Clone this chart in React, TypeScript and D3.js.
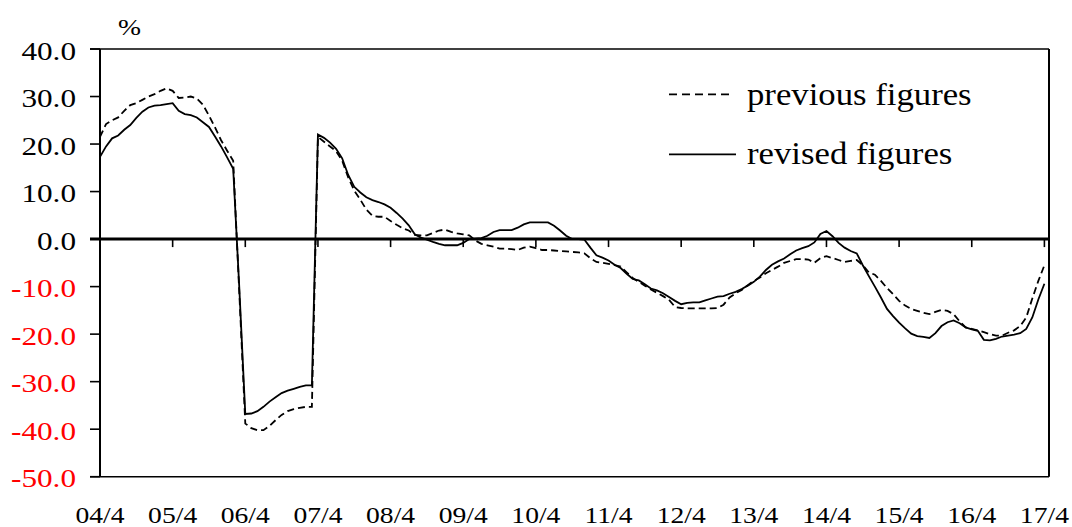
import React, { useEffect, useRef } from 'react'
import * as d3 from 'd3'

// fiscal year start labels (April of each year)
const yearLabels = ['04/4', '05/4', '06/4', '07/4', '08/4', '09/4', '10/4', '11/4', '12/4', '13/4', '14/4', '15/4', '16/4', '17/4']

const yTicks = [40, 30, 20, 10, 0, -10, -20, -30, -40, -50]

// monthly values, 2004/4 .. 2017/4
const previousFigures = [
  21.5, 24.2, 25.0, 25.6, 27.0, 28.2, 28.6, 29.3, 30.0, 30.5,
  31.2, 31.7, 31.2, 29.7, 29.8, 30.0, 29.6, 28.3, 26.0, 23.5,
  20.8, 18.6, 16.5, -11.0, -38.8, -39.8, -40.2, -40.2, -39.3, -38.1,
  -37.0, -36.2, -35.8, -35.5, -35.3, -35.3, 21.5, 20.5, 19.5, 18.5,
  16.5, 13.0, 10.2, 8.3, 6.2, 4.9, 4.7, 4.7, 3.8, 3.0,
  2.3, 1.8, 0.9, 0.8, 0.8, 1.3, 1.8, 2.0, 1.5, 1.2,
  1.0, 0.8, -0.3, -1.0, -1.3, -1.6, -2.0, -2.0, -2.1, -2.3,
  -1.8, -1.6, -1.9, -2.3, -2.3, -2.4, -2.5, -2.6, -2.7, -2.8,
  -3.0, -4.0, -4.8, -5.0, -5.2, -5.5, -5.8, -7.0, -8.2, -9.0,
  -9.8, -10.6, -11.3, -12.0, -12.8, -14.3, -14.5, -14.6, -14.6, -14.6,
  -14.6, -14.6, -14.5, -13.8, -12.3, -11.4, -10.7, -9.7, -8.8, -8.1,
  -7.2, -6.5, -5.8, -5.0, -4.6, -4.2, -4.2, -4.3, -5.0, -4.0,
  -3.6, -4.0, -4.4, -4.8, -4.6, -4.4, -5.5, -7.0, -7.5, -8.8,
  -10.3, -11.6, -13.0, -14.0, -14.7, -15.1, -15.5, -15.8, -15.3, -14.9,
  -15.1, -15.8, -17.3, -18.6, -18.9, -19.2, -19.6, -20.0, -20.3, -20.3,
  -19.7, -19.2, -18.3, -16.5, -12.5, -8.8, -5.5,
]

const revisedFigures = [
  17.3, 19.5, 21.2, 21.8, 23.0, 24.0, 25.5, 26.8, 27.7, 28.1,
  28.2, 28.4, 28.6, 27.0, 26.3, 26.1, 25.6, 24.6, 23.6, 21.6,
  19.5, 17.2, 14.8, -10.0, -36.8, -36.7, -36.2, -35.3, -34.2, -33.3,
  -32.4, -31.9, -31.5, -31.1, -30.8, -30.8, 22.0, 21.3, 20.3, 19.0,
  17.0, 13.5, 11.0, 9.8, 8.8, 8.2, 7.8, 7.3, 6.6, 5.5,
  4.3, 2.9, 1.0, 0.3, -0.1, -0.6, -1.0, -1.3, -1.3, -1.3,
  -0.8, 0.0, 0.1, 0.2, 0.7, 1.5, 1.9, 1.9, 1.9, 2.4,
  3.1, 3.5, 3.5, 3.5, 3.5, 2.8, 1.8, 0.7, 0.0, 0.0,
  -0.1, -1.8, -3.4, -3.9, -4.5, -5.4, -6.1, -7.3, -8.4, -8.7,
  -9.5, -10.4, -10.8, -11.4, -12.2, -13.0, -13.7, -13.4, -13.3, -13.3,
  -12.9, -12.5, -12.1, -12.0, -11.5, -11.1, -10.5, -9.8, -9.0, -7.9,
  -6.5, -5.4, -4.7, -4.1, -3.2, -2.4, -1.9, -1.5, -0.7, 1.1,
  1.7, 0.6, -0.8, -1.8, -2.5, -3.0, -5.5, -7.8, -10.0, -12.3,
  -14.7, -16.2, -17.6, -18.8, -19.9, -20.4, -20.6, -20.8, -19.8, -18.3,
  -17.5, -17.1, -17.7, -18.6, -19.0, -19.3, -21.2, -21.3, -21.0, -20.5,
  -20.3, -20.1, -19.8, -18.9, -16.5, -12.7, -9.4,
]

const FONT = "'Liberation Serif', 'DejaVu Serif', serif"

const App = () => {
  const ref = useRef<SVGSVGElement>(null)

  useEffect(() => {
    const svg = d3.select(ref.current)
    svg.selectAll('*').remove()

    const left = 100
    const right = 1049
    const top = 49
    const bottom = 476.7

    const x = d3.scaleLinear().domain([0, 156]).range([left, 1044.4])
    const y = d3.scaleLinear().domain([-50, 40]).range([bottom, top])

    const txt = (tr: string, size: number, s: string, anchor = 'start', fill = '#000') =>
      svg.append('text')
        .attr('transform', tr)
        .attr('text-anchor', anchor)
        .style('font-family', FONT)
        .style('font-size', `${size}px`)
        .attr('fill', fill)
        .text(s)

    // frame
    svg.append('line').attr('x1', left - 10).attr('x2', right).attr('y1', top).attr('y2', top)
      .attr('stroke', '#000').attr('stroke-width', 1.6)
    svg.append('line').attr('x1', left - 10).attr('x2', right).attr('y1', bottom).attr('y2', bottom)
      .attr('stroke', '#000').attr('stroke-width', 1.4)
    svg.append('line').attr('x1', left).attr('x2', left).attr('y1', top).attr('y2', bottom)
      .attr('stroke', '#000').attr('stroke-width', 2)
    svg.append('line').attr('x1', right).attr('x2', right).attr('y1', top).attr('y2', bottom)
      .attr('stroke', '#000').attr('stroke-width', 2)

    // y ticks + labels
    yTicks.forEach((t) => {
      svg.append('line').attr('x1', left - 10).attr('x2', left).attr('y1', y(t)).attr('y2', y(t))
        .attr('stroke', '#000').attr('stroke-width', 1.6)
      txt(`translate(76,${y(t) + 10.5}) scale(1.2,1)`, 26, t.toFixed(1), 'end', t < 0 ? '#ff0000' : '#000')
    })

    // zero line
    svg.append('line').attr('x1', left - 10).attr('x2', right).attr('y1', y(0)).attr('y2', y(0))
      .attr('stroke', '#000').attr('stroke-width', 3)

    // x ticks + labels
    yearLabels.forEach((lab, k) => {
      const xi = x(k * 12)
      if (k > 0) {
        svg.append('line').attr('x1', xi).attr('x2', xi).attr('y1', y(0)).attr('y2', y(0) + 8)
          .attr('stroke', '#000').attr('stroke-width', 1.6)
      }
      txt(`translate(${xi},522.5) scale(1.15,1)`, 24, lab, 'middle')
    })

    txt('translate(118,35) scale(1.15,1)', 24, '%')

    const line = d3.line<number>().x((_, i) => x(i)).y((d) => y(d))

    svg.append('path').datum(previousFigures)
      .attr('fill', 'none').attr('stroke', '#000').attr('stroke-width', 1.8)
      .attr('stroke-dasharray', '7,4').attr('d', line)
    svg.append('path').datum(revisedFigures)
      .attr('fill', 'none').attr('stroke', '#000').attr('stroke-width', 1.8)
      .attr('d', line)

    // legend
    svg.append('line').attr('x1', 669).attr('x2', 734).attr('y1', 94.3).attr('y2', 94.3)
      .attr('stroke', '#000').attr('stroke-width', 1.8).attr('stroke-dasharray', '8,5')
    svg.append('line').attr('x1', 669).attr('x2', 736).attr('y1', 154.3).attr('y2', 154.3)
      .attr('stroke', '#000').attr('stroke-width', 1.8)
    txt('translate(747,105) scale(1.12,1)', 31, 'previous figures')
    txt('translate(747,164) scale(1.12,1)', 31, 'revised figures')
  }, [])

  return (
    <svg
      ref={ref}
      width={1072}
      height={527}
      style={{ position: 'absolute', left: 0, top: 0, background: '#fff' }}
    />
  )
}

export default App
